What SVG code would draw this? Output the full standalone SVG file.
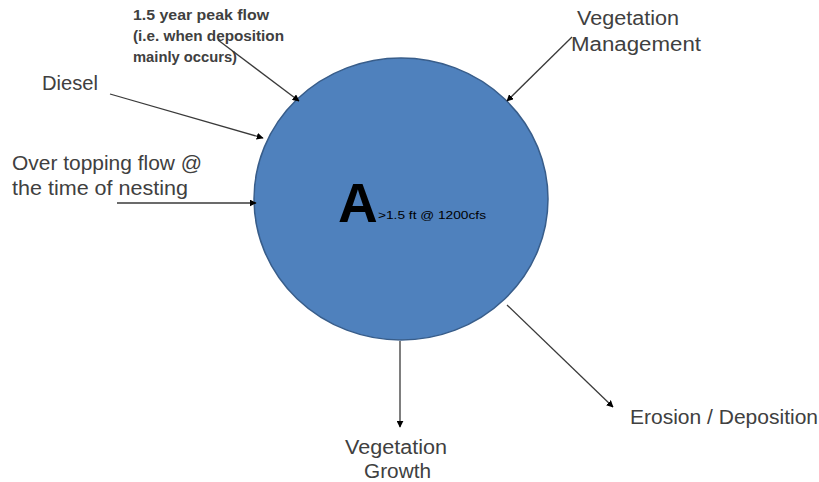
<svg xmlns="http://www.w3.org/2000/svg" width="819" height="482" viewBox="0 0 819 482">
<style>
.lbl{font-family:"Liberation Sans",Arial,sans-serif;font-size:20px;fill:#404040}
.sm{font-family:"Liberation Sans",Arial,sans-serif;font-size:14px;font-weight:bold;fill:#404040}
.con{stroke:#3a3a3a;stroke-width:1.3;fill:none;marker-end:url(#ah)}
</style>
<defs>
<marker id="ah" viewBox="0 0 10 10" refX="9" refY="5" markerWidth="7" markerHeight="7" markerUnits="userSpaceOnUse" orient="auto">
<path d="M0,0 L10,5 L0,10 z" fill="#000"/>
</marker>
</defs>
<rect width="819" height="482" fill="#fff"/>
<g id="node-A">
<ellipse cx="401" cy="199" rx="147" ry="141" fill="#4F81BD" stroke="#385D8A" stroke-width="1.5"/>
<text x="338" y="222" style="font-family:'Liberation Sans',Arial,sans-serif;font-size:55px;font-weight:bold;fill:#000">A</text>
<text x="378" y="219" style="font-family:'Liberation Sans',Arial,sans-serif;font-size:10px;fill:#000" textLength="108" lengthAdjust="spacingAndGlyphs">&gt;1.5 ft @ 1200cfs</text>
</g>
<g id="node-peakflow">
<text class="sm" x="133" y="20" textLength="136" lengthAdjust="spacingAndGlyphs">1.5 year peak flow</text>
<text class="sm" x="133" y="41" textLength="151" lengthAdjust="spacingAndGlyphs">(i.e. when deposition</text>
<text class="sm" x="133" y="62" textLength="104" lengthAdjust="spacingAndGlyphs">mainly occurs)</text>
</g>
<g id="node-diesel"><text class="lbl" x="42" y="90" textLength="56" lengthAdjust="spacingAndGlyphs">Diesel</text></g>
<g id="node-overtopping">
<text class="lbl" x="12" y="170" textLength="190" lengthAdjust="spacingAndGlyphs">Over topping flow @</text>
<text class="lbl" x="12" y="195" textLength="176" lengthAdjust="spacingAndGlyphs">the time of nesting</text>
</g>
<g id="node-vegmgmt">
<text class="lbl" x="577" y="25" textLength="102" lengthAdjust="spacingAndGlyphs">Vegetation</text>
<text class="lbl" x="571" y="51" textLength="130" lengthAdjust="spacingAndGlyphs">Management</text>
</g>
<g id="node-veggrowth">
<text class="lbl" x="345" y="454" textLength="102" lengthAdjust="spacingAndGlyphs">Vegetation</text>
<text class="lbl" x="364" y="478" textLength="67" lengthAdjust="spacingAndGlyphs">Growth</text>
</g>
<g id="node-erosion"><text class="lbl" x="630" y="424" textLength="188" lengthAdjust="spacingAndGlyphs">Erosion / Deposition</text></g>
<g id="connectors">
<line class="con" x1="218" y1="40" x2="299" y2="101"/>
<line class="con" x1="110" y1="94" x2="263" y2="138"/>
<line class="con" x1="117" y1="203" x2="256" y2="203"/>
<line class="con" x1="572" y1="37" x2="507" y2="101"/>
<line class="con" x1="400" y1="341" x2="400" y2="427"/>
<line class="con" x1="507" y1="305" x2="613" y2="407"/>
</g>
</svg>
